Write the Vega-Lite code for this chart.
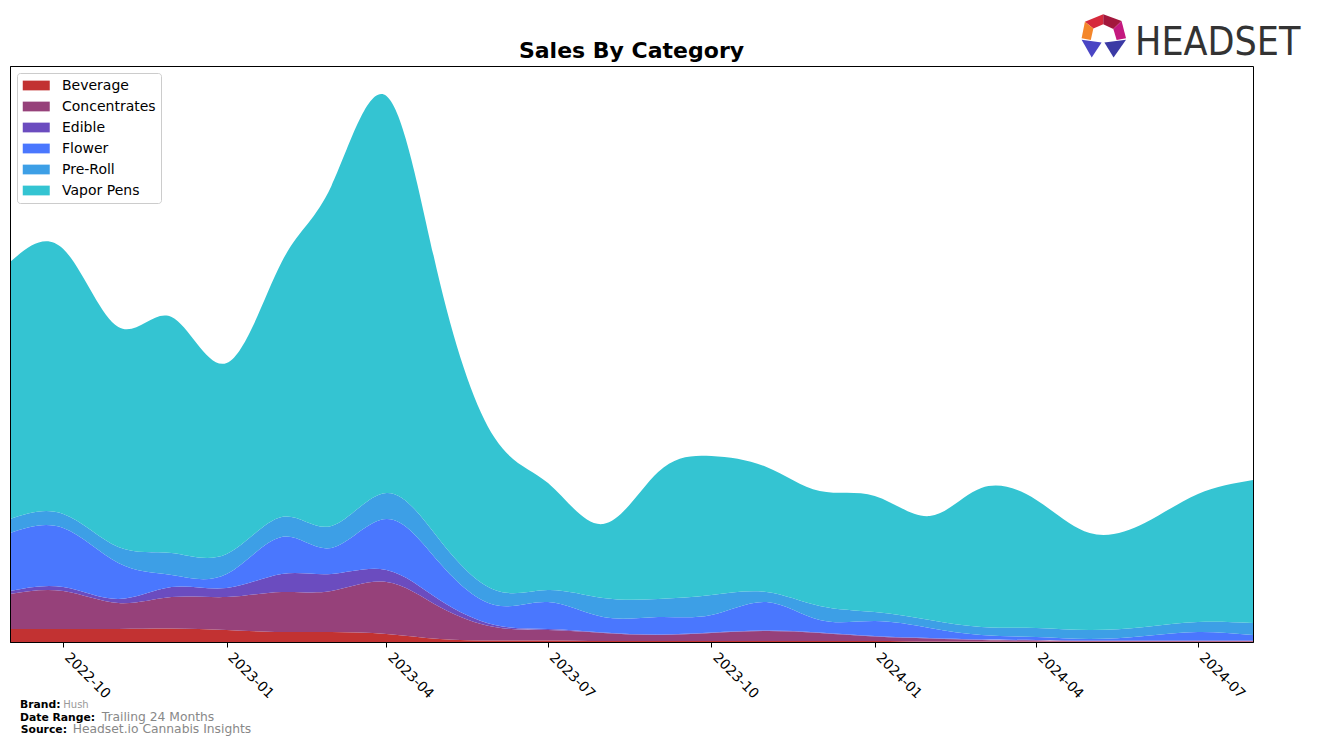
{
  "$schema": "https://vega.github.io/schema/vega-lite/v6.json",
  "width": 1243,
  "height": 576,
  "autosize": {"type": "none"},
  "padding": {"left": 10, "top": 66, "right": 64, "bottom": 103},
  "background": "white",
  "config": {
    "view": {"stroke": "black", "strokeWidth": 1},
    "font": "DejaVu Sans"
  },
  "datasets": {
    "sales": [
      {"month": "2022-09-01", "Beverage": 13, "Concentrates": 35, "Edible": 3, "Flower": 58, "Pre-Roll": 14, "Vapor Pens": 257},
      {"month": "2022-10-01", "Beverage": 13, "Concentrates": 38, "Edible": 4, "Flower": 59, "Pre-Roll": 14, "Vapor Pens": 265},
      {"month": "2022-11-01", "Beverage": 13, "Concentrates": 26, "Edible": 4, "Flower": 36, "Pre-Roll": 16, "Vapor Pens": 220},
      {"month": "2022-12-01", "Beverage": 13.5, "Concentrates": 31.5, "Edible": 10, "Flower": 12, "Pre-Roll": 22, "Vapor Pens": 236},
      {"month": "2023-01-01", "Beverage": 12, "Concentrates": 33, "Edible": 9, "Flower": 14, "Pre-Roll": 20, "Vapor Pens": 191},
      {"month": "2023-02-01", "Beverage": 10, "Concentrates": 40, "Edible": 18, "Flower": 37, "Pre-Roll": 20, "Vapor Pens": 255},
      {"month": "2023-03-01", "Beverage": 10, "Concentrates": 41, "Edible": 17, "Flower": 26, "Pre-Roll": 22, "Vapor Pens": 340},
      {"month": "2023-04-01", "Beverage": 8, "Concentrates": 52, "Edible": 12, "Flower": 51, "Pre-Roll": 26, "Vapor Pens": 397},
      {"month": "2023-05-01", "Beverage": 3, "Concentrates": 32, "Edible": 7, "Flower": 37, "Pre-Roll": 23, "Vapor Pens": 258},
      {"month": "2023-06-01", "Beverage": 1.5, "Concentrates": 13.5, "Edible": 2, "Flower": 20, "Pre-Roll": 15, "Vapor Pens": 152},
      {"month": "2023-07-01", "Beverage": 1.5, "Concentrates": 10.5, "Edible": 1, "Flower": 27, "Pre-Roll": 12, "Vapor Pens": 107},
      {"month": "2023-08-01", "Beverage": 1, "Concentrates": 8, "Edible": 0.5, "Flower": 15.5, "Pre-Roll": 19, "Vapor Pens": 74},
      {"month": "2023-09-01", "Beverage": 1, "Concentrates": 6, "Edible": 0.5, "Flower": 17.5, "Pre-Roll": 18, "Vapor Pens": 127},
      {"month": "2023-10-01", "Beverage": 1, "Concentrates": 8, "Edible": 0.5, "Flower": 17.5, "Pre-Roll": 20, "Vapor Pens": 139},
      {"month": "2023-11-01", "Beverage": 1, "Concentrates": 10, "Edible": 0.5, "Flower": 28.5, "Pre-Roll": 10, "Vapor Pens": 125},
      {"month": "2023-12-01", "Beverage": 1, "Concentrates": 8, "Edible": 0.5, "Flower": 12.5, "Pre-Roll": 14, "Vapor Pens": 115},
      {"month": "2024-01-01", "Beverage": 1, "Concentrates": 4.5, "Edible": 0.5, "Flower": 15, "Pre-Roll": 9, "Vapor Pens": 116},
      {"month": "2024-02-01", "Beverage": 0.5, "Concentrates": 3, "Edible": 0.5, "Flower": 10, "Pre-Roll": 8, "Vapor Pens": 104},
      {"month": "2024-03-01", "Beverage": 0.5, "Concentrates": 1.5, "Edible": 0.5, "Flower": 4.5, "Pre-Roll": 8, "Vapor Pens": 139},
      {"month": "2024-04-01", "Beverage": 0.5, "Concentrates": 1, "Edible": 0.5, "Flower": 3, "Pre-Roll": 9, "Vapor Pens": 128},
      {"month": "2024-05-01", "Beverage": 0.5, "Concentrates": 0.5, "Edible": 0.5, "Flower": 1.5, "Pre-Roll": 9, "Vapor Pens": 97},
      {"month": "2024-06-01", "Beverage": 0.5, "Concentrates": 0.5, "Edible": 0.5, "Flower": 4.5, "Pre-Roll": 9, "Vapor Pens": 104},
      {"month": "2024-07-01", "Beverage": 0.5, "Concentrates": 0.5, "Edible": 0.5, "Flower": 8.5, "Pre-Roll": 10, "Vapor Pens": 128},
      {"month": "2024-08-01", "Beverage": 0.5, "Concentrates": 0.5, "Edible": 0.5, "Flower": 5.5, "Pre-Roll": 12, "Vapor Pens": 143}
    ]
  },
  "layer": [
    {
      "data": {"name": "sales"},
      "transform": [{"fold": ["Beverage", "Concentrates", "Edible", "Flower", "Pre-Roll", "Vapor Pens"], "as": ["category", "value"]}],
      "mark": {"type": "area", "interpolate": "natural", "opacity": 1},
      "encoding": {
        "x": {
          "field": "month", "type": "temporal",
          "scale": {"type": "utc", "nice": false, "padding": 0, "domain": [{"year": 2022, "month": 9, "date": 1, "utc": true}, {"year": 2024, "month": 8, "date": 1, "utc": true}]},
          "axis": {
            "values": [
              {"year": 2022, "month": 10, "date": 1, "utc": true},
              {"year": 2023, "month": 1, "date": 1, "utc": true},
              {"year": 2023, "month": 4, "date": 1, "utc": true},
              {"year": 2023, "month": 7, "date": 1, "utc": true},
              {"year": 2023, "month": 10, "date": 1, "utc": true},
              {"year": 2024, "month": 1, "date": 1, "utc": true},
              {"year": 2024, "month": 4, "date": 1, "utc": true},
              {"year": 2024, "month": 7, "date": 1, "utc": true}
            ],
            "format": "%Y-%m", "title": null, "grid": false,
            "labelAngle": 45, "labelAlign": "left", "labelBaseline": "top",
            "labelFont": "DejaVu Sans", "labelFontSize": 13.9, "labelColor": "black",
            "labelPadding": 3, "labelOffset": 8, "labelFlush": false, "labelOverlap": false,
            "tickColor": "black", "tickSize": 5, "domainColor": "black", "zindex": 1
          }
        },
        "y": {
          "field": "value", "type": "quantitative", "stack": "zero",
          "scale": {"domain": [0, 576], "nice": false},
          "axis": {"labels": false, "ticks": false, "grid": false, "title": null, "domainColor": "black", "zindex": 1}
        },
        "order": {"field": "category", "sort": "ascending"},
        "color": {
          "field": "category", "type": "nominal",
          "scale": {
            "domain": ["Beverage", "Concentrates", "Edible", "Flower", "Pre-Roll", "Vapor Pens"],
            "range": ["#c23232", "#96417a", "#6b4cbf", "#4a77fe", "#3d9fe6", "#34c4d2"]
          },
          "legend": {
            "title": null, "orient": "top-left", "offset": 7, "padding": 5,
            "strokeColor": "#cccccc", "fillColor": "white", "cornerRadius": 3,
            "symbolType": "M-0.9,-0.65H2.7V0.65H-0.9Z", "symbolSize": 225,
            "symbolStrokeWidth": 0, "symbolOpacity": 1,
            "labelFont": "DejaVu Sans", "labelFontSize": 14, "labelColor": "black",
            "labelOffset": 25, "rowPadding": 6
          }
        }
      }
    },
    {"data": {"values": [{}]}, "mark": {"type": "text", "text": "Sales By Category", "x": 621.5, "y": -8.3, "align": "center", "baseline": "alphabetic", "font": "DejaVu Sans", "fontWeight": "bold", "fontSize": 22, "color": "black"}},
    {"data": {"values": [{}]}, "mark": {"type": "text", "text": "Brand:", "x": 10, "y": 641.5, "align": "left", "baseline": "alphabetic", "font": "DejaVu Sans", "fontWeight": "bold", "fontSize": 10.8, "color": "black"}},
    {"data": {"values": [{}]}, "mark": {"type": "text", "text": "Hush", "x": 53.3, "y": 641.5, "align": "left", "baseline": "alphabetic", "font": "DejaVu Sans", "fontSize": 10, "color": "#999999"}},
    {"data": {"values": [{}]}, "mark": {"type": "text", "text": "Date Range:", "x": 10, "y": 655, "align": "left", "baseline": "alphabetic", "font": "DejaVu Sans", "fontWeight": "bold", "fontSize": 10.8, "color": "black"}},
    {"data": {"values": [{}]}, "mark": {"type": "text", "text": "Trailing 24 Months", "x": 91.7, "y": 655, "align": "left", "baseline": "alphabetic", "font": "DejaVu Sans", "fontSize": 12.3, "color": "#888888"}},
    {"data": {"values": [{}]}, "mark": {"type": "text", "text": "Source:", "x": 10.7, "y": 667, "align": "left", "baseline": "alphabetic", "font": "DejaVu Sans", "fontWeight": "bold", "fontSize": 10.8, "color": "black"}},
    {"data": {"values": [{}]}, "mark": {"type": "text", "text": "Headset.io Cannabis Insights", "x": 62.7, "y": 667, "align": "left", "baseline": "alphabetic", "font": "DejaVu Sans", "fontSize": 12.3, "color": "#888888"}},
    {"data": {"values": [{}]}, "mark": {"type": "text", "text": "HEADSET", "x": 1125, "y": -11, "align": "left", "baseline": "alphabetic", "font": "DejaVu Sans Condensed, sans-serif", "fontSize": 39, "color": "#333333"}},
    {"data": {"values": [{}]}, "mark": {"type": "point", "filled": true, "opacity": 1, "strokeWidth": 0, "fill": "#d62a3c", "size": 2209, "x": 1093, "y": -30.5, "shape": "M0.01,-0.9L-0.77,-0.59L-0.41,-0.3L0.01,-0.48Z"}},
    {"data": {"values": [{}]}, "mark": {"type": "point", "filled": true, "opacity": 1, "strokeWidth": 0, "fill": "#a3173c", "size": 2209, "x": 1093, "y": -30.5, "shape": "M0.01,-0.9L0.79,-0.62L0.44,-0.28L0.01,-0.48Z"}},
    {"data": {"values": [{}]}, "mark": {"type": "point", "filled": true, "opacity": 1, "strokeWidth": 0, "fill": "#c4197f", "size": 2209, "x": 1093, "y": -30.5, "shape": "M0.79,-0.62L0.98,0.12L0.58,0.19L0.44,-0.28Z"}},
    {"data": {"values": [{}]}, "mark": {"type": "point", "filled": true, "opacity": 1, "strokeWidth": 0, "fill": "#f4862a", "size": 2209, "x": 1093, "y": -30.5, "shape": "M-0.77,-0.59L-0.91,0.12L-0.52,0.19L-0.41,-0.3Z"}},
    {"data": {"values": [{}]}, "mark": {"type": "point", "filled": true, "opacity": 1, "strokeWidth": 0, "fill": "#4a45c4", "size": 2209, "x": 1093, "y": -30.5, "shape": "M-0.91,0.18L-0.06,0.3L-0.48,0.94Z"}},
    {"data": {"values": [{}]}, "mark": {"type": "point", "filled": true, "opacity": 1, "strokeWidth": 0, "fill": "#3b3aa5", "size": 2209, "x": 1093, "y": -30.5, "shape": "M0.06,0.3L0.98,0.18L0.45,0.94Z"}}
  ]
}
